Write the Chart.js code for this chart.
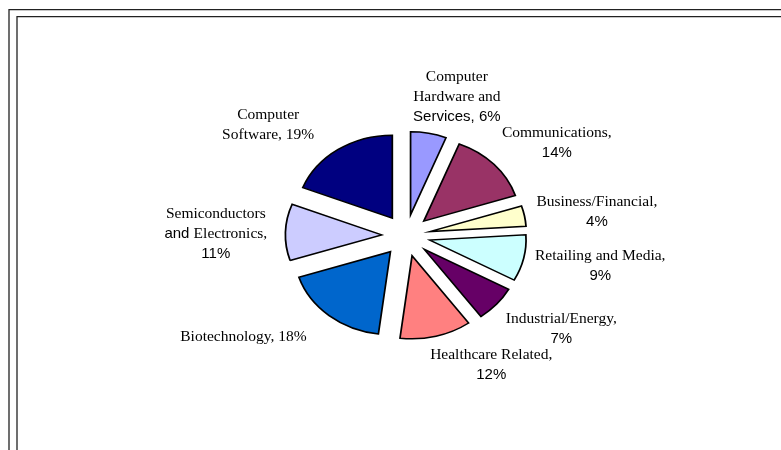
<!DOCTYPE html>
<html>
<head>
<meta charset="utf-8">
<script src="https://cdn.jsdelivr.net/npm/chart.js@4.4.1/dist/chart.umd.min.js"></script>
<style>
  html, body { margin: 0; padding: 0; background: #fff; }
  canvas { display: block; }
</style>
</head>
<body>
<canvas id="grafica" width="781" height="450"></canvas>
<script>
// Datos del gráfico (porcentaje por sector)
const categories = ['Computer Hardware and Services', 'Communications', 'Business/Financial', 'Retailing and Media',
    'Industrial/Energy', 'Healthcare Related', 'Biotechnology', 'Semiconductors and Electronics', 'Computer Software'];
const values = [6, 14, 4, 9, 7, 12, 18, 11, 19];
const sliceColors = ['#9999FF', '#993366', '#FFFFCC', '#CCFFFF', '#660066', '#FF8080', '#0066CC', '#CCCCFF', '#000080'];

// Texto de las etiquetas, línea por línea ('~' = tramo en fuente sans)
const labelLines = [
    ['Computer', 'Hardware and', '~Services, 6%'],
    ['Communications,', '~14%'],
    ['Business/Financial,', '~4%'],
    ['Retailing and Media,', '~9%'],
    ['Industrial/Energy,', '~7%'],
    ['Healthcare Related,', '~12%'],
    ['Biotechnology, 18%'],
    ['Semiconductors', ['~and ', 'Electronics,'], '~11%'],
    ['Computer', 'Software, 19%']
];

// Estilo
const EXPLODE = 21;      // separación de cada porción
const STRETCH = 1.16;    // el pastel original está estirado en horizontal
const LABEL_GAP = 14;
const LINE_H = 20;
const SERIF = '15.5px "Liberation Serif", "Times New Roman", serif';
const SANS = '15px "Liberation Sans", Arial, sans-serif';
// Ajustes finos de posición de cada etiqueta (px)
const labelNudge = [[17, 7], [11, 2], [-3, 2], [-3, 0], [11, 2], [36, -4], [-35, 3], [-2, 3], [-35, 4]];

function pieces(line) {
    return (typeof line === 'string' ? [line] : line).map(p =>
        p.startsWith('~') ? { text: p.slice(1), font: SANS } : { text: p, font: SERIF });
}

function lineWidth(ctx, line) {
    return pieces(line).reduce((sum, p) => { ctx.font = p.font; return sum + ctx.measureText(p.text).width; }, 0);
}

function drawLine(ctx, line, x, y) {
    let left = x - lineWidth(ctx, line) / 2;
    pieces(line).forEach(p => {
        ctx.font = p.font;
        ctx.fillText(p.text, left, y);
        left += ctx.measureText(p.text).width;
    });
}

// Marco doble (arriba e izquierda)
const framePlugin = {
    id: 'marco',
    beforeDraw(chart) {
        const ctx = chart.ctx;
        ctx.save();
        ctx.strokeStyle = '#222';
        ctx.lineWidth = 1.3;
        [[9, 9.7], [17, 16.7]].forEach(([x, y]) => {
            ctx.beginPath();
            ctx.moveTo(x, chart.height);
            ctx.lineTo(x, y);
            ctx.lineTo(chart.width, y);
            ctx.stroke();
        });
        ctx.restore();
    }
};

// Separar las porciones del centro
const explodePlugin = {
    id: 'separar',
    afterDatasetUpdate(chart, args) {
        chart.getDatasetMeta(args.index).data.forEach(arc => {
            const mid = (arc.startAngle + arc.endAngle) / 2;
            arc.x += Math.cos(mid) * EXPLODE;
            arc.y += Math.sin(mid) * EXPLODE;
        });
    }
};

// Estirar el pastel en horizontal
const stretchPlugin = {
    id: 'estirar',
    beforeDatasetsDraw(chart) {
        const ctx = chart.ctx;
        const cx = (chart.chartArea.left + chart.chartArea.right) / 2;
        ctx.save();
        ctx.translate(cx, 0);
        ctx.scale(STRETCH, 1);
        ctx.translate(-cx, 0);
    },
    afterDatasetsDraw(chart) {
        chart.ctx.restore();
    }
};

// Etiquetas de datos fuera de cada porción
const labelPlugin = {
    id: 'etiquetas',
    afterDraw(chart) {
        const ctx = chart.ctx;
        const cx = (chart.chartArea.left + chart.chartArea.right) / 2;
        ctx.save();
        ctx.fillStyle = '#000';
        ctx.textAlign = 'left';
        ctx.textBaseline = 'middle';
        chart.getDatasetMeta(0).data.forEach((arc, i) => {
            const mid = (arc.startAngle + arc.endAngle) / 2;
            const ux = Math.cos(mid), uy = Math.sin(mid);
            const dist = arc.outerRadius + LABEL_GAP;
            const px = cx + STRETCH * (arc.x + ux * dist - cx);
            const py = arc.y + uy * dist;
            const lines = labelLines[i];
            const w = Math.max(...lines.map(l => lineWidth(ctx, l)));
            const h = lines.length * LINE_H;
            const bx = px + ux * w / 2 + labelNudge[i][0];
            const by = py + uy * h / 2 + labelNudge[i][1];
            lines.forEach((l, k) => drawLine(ctx, l, bx, by + (k - (lines.length - 1) / 2) * LINE_H));
        });
        ctx.restore();
    }
};

const ctx = document.getElementById('grafica').getContext('2d');
new Chart(ctx, {
    type: 'pie',
    data: {
        labels: categories,
        datasets: [{
            data: values,
            backgroundColor: sliceColors,
            borderColor: '#000',
            borderWidth: 1.5,
            borderJoinStyle: 'miter',
            radius: 83
        }]
    },
    options: {
        responsive: false,
        animation: false,
        events: [],
        layout: { padding: { left: 31, top: 21, right: 0, bottom: 0 } },
        plugins: {
            legend: { display: false },
            tooltip: { enabled: false }
        }
    },
    plugins: [framePlugin, explodePlugin, stretchPlugin, labelPlugin]
});
</script>
</body>
</html>
